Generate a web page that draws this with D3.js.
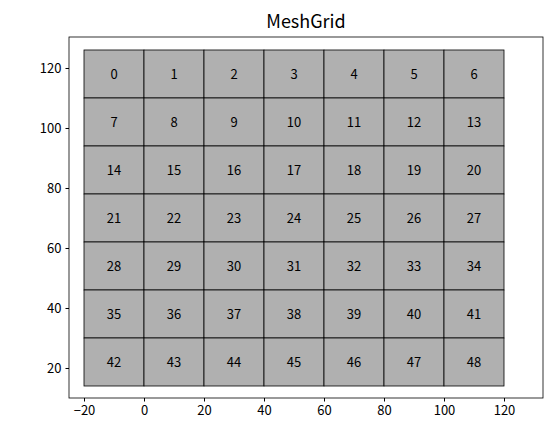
<!DOCTYPE html><html><head><meta charset="utf-8"><script src="https://cdn.jsdelivr.net/npm/d3@7"></script>
<style>body{margin:0;background:#fff}text{font-family:"Noto Sans CJK JP",sans-serif}</style></head><body>
<script>
const xEdges=[-20,0,20,40,60,80,100,120];
const yEdges=[126,110,94,78,62,46,30,14];
const xTicks=[-20,0,20,40,60,80,100,120];
const yTicks=[20,40,60,80,100,120];
const title="MeshGrid";
const W=551,H=436,L=69,R=543,T=37,B=398;
const x=d3.scaleLinear().domain([-25,133]).range([L,R]);
const y=d3.scaleLinear().domain([10,130.33]).range([B,T]);
const svg=d3.select("body").append("svg").attr("width",W).attr("height",H);
const cells=[];
for(let r=0;r<7;r++)for(let c=0;c<7;c++)cells.push({r,c,i:r*7+c});
svg.selectAll("rect.c").data(cells).enter().append("rect")
 .attr("x",d=>x(xEdges[d.c])).attr("y",d=>y(yEdges[d.r]))
 .attr("width",d=>x(xEdges[d.c+1])-x(xEdges[d.c])).attr("height",d=>y(yEdges[d.r+1])-y(yEdges[d.r]))
 .attr("fill","#b0b0b0").attr("stroke","#000").attr("stroke-width",0.8);
svg.selectAll("text.c").data(cells).enter().append("text")
 .attr("x",d=>x((xEdges[d.c]+xEdges[d.c+1])/2)).attr("y",d=>y((yEdges[d.r]+yEdges[d.r+1])/2))
 .attr("text-anchor","middle").attr("dominant-baseline","central").attr("font-size",13).text(d=>d.i);
svg.append("rect").attr("x",L).attr("y",T).attr("width",R-L).attr("height",B-T).attr("fill","none").attr("stroke","#000").attr("stroke-width",0.8);
svg.append("g").attr("transform",`translate(0,${B})`).call(d3.axisBottom(x).tickValues(xTicks).tickSize(3.5).tickPadding(4).tickFormat(d=>d<0?"−"+(-d):d))
 .call(g=>{g.select(".domain").remove();g.selectAll("text").attr("font-size",13).attr("fill","#000").attr("font-family","Noto Sans CJK JP")});
svg.append("g").attr("transform",`translate(${L},0)`).call(d3.axisLeft(y).tickValues(yTicks).tickSize(3.5).tickPadding(4))
 .call(g=>{g.select(".domain").remove();g.selectAll("text").attr("font-size",13).attr("fill","#000").attr("font-family","Noto Sans CJK JP")});
svg.append("text").attr("x",(L+R)/2).attr("y",T-9).attr("text-anchor","middle").attr("font-size",18).text(title);
</script></body></html>
